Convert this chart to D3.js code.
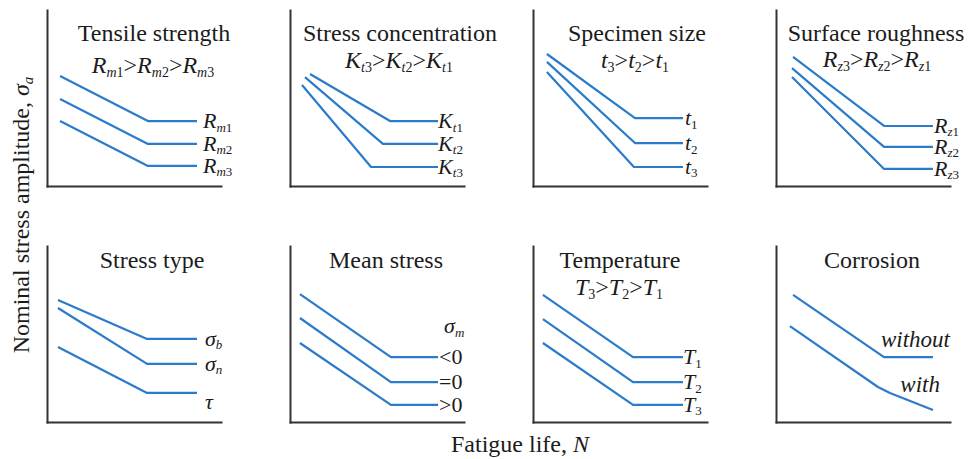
<!DOCTYPE html>
<html>
<head>
<meta charset="utf-8">
<script src="https://cdn.jsdelivr.net/npm/d3@7"></script>
<style>
  html, body { margin: 0; padding: 0; background: #fff; }
  svg { display: block; }
</style>
</head>
<body>
<svg id="chart" width="969" height="459"></svg>
<script>
// ---- Panel text ----
const titles = ["Tensile strength", "Stress concentration", "Specimen size", "Surface roughness",
                "Stress type", "Mean stress", "Temperature", "Corrosion"];
const subtitles = ["R_{m1}>R_{m2}>R_{m3}", "K_{t3}>K_{t2}>K_{t1}", "t_{3}>t_{2}>t_{1}", "R_{z3}>R_{z2}>R_{z1}",
                   "", "", "T_{3}>T_{2}>T_{1}", ""];
const seriesLabels = [
  ["R_{m1}", "R_{m2}", "R_{m3}"],
  ["K_{t1}", "K_{t2}", "K_{t3}"],
  ["t_{1}", "t_{2}", "t_{3}"],
  ["R_{z1}", "R_{z2}", "R_{z3}"],
  ["σ_{b}", "σ_{n}", "τ"],
  ["<0", "=0", ">0"],
  ["T_{1}", "T_{2}", "T_{3}"],
  ["without", "with"]
];

// ---- Schematic S-N curves: [log life (0-100), stress amplitude (0-100)] ----
const tensileStrength = [
  [[7.5, 62.5], [58.0, 36.9], [86.2, 36.9]],
  [[7.5, 49.4], [58.0, 23.9], [86.2, 23.9]],
  [[7.5, 36.9], [58.0, 11.4], [86.2, 11.4]]
];
const stressConcentration = [
  [[11.5, 63.6], [57.5, 36.9], [85.1, 36.9]],
  [[8.6, 61.9], [53.4, 23.9], [85.1, 23.9]],
  [[6.9, 57.4], [46.6, 10.8], [85.1, 10.8]]
];
const specimenSize = [
  [[8.0, 75.0], [58.6, 38.6], [86.2, 38.6]],
  [[8.0, 70.5], [58.6, 24.4], [86.2, 24.4]],
  [[8.0, 64.8], [58.0, 10.8], [86.2, 10.8]]
];
const surfaceRoughness = [
  [[9.8, 73.3], [62.1, 34.1], [90.2, 34.1]],
  [[9.2, 67.0], [62.1, 22.2], [90.2, 22.2]],
  [[9.2, 61.9], [62.1, 9.7], [90.2, 9.7]]
];
const stressType = [
  [[6.3, 69.3], [57.5, 47.2], [86.2, 47.2]],
  [[6.3, 64.8], [57.5, 33.0], [86.2, 33.0]],
  [[6.3, 42.6], [57.5, 16.5], [86.2, 16.5]]
];
const meanStress = [
  [[5.7, 72.7], [58.0, 36.9], [85.1, 36.9]],
  [[5.7, 59.1], [58.0, 22.7], [85.1, 22.7]],
  [[5.7, 44.9], [58.0, 9.7], [85.1, 9.7]]
];
const temperature = [
  [[5.7, 72.2], [57.5, 36.9], [86.2, 36.9]],
  [[5.7, 58.5], [57.5, 22.7], [86.2, 22.7]],
  [[5.7, 44.9], [57.5, 9.7], [86.2, 9.7]]
];
const corrosion = [
  [[9.8, 72.2], [62.1, 36.9], [90.2, 36.9]],
  [[8.0, 54.5], [58.6, 19.9], [65.5, 16.5], [90.2, 6.8]]
];
const panelSeries = [tensileStrength, stressConcentration, specimenSize, surfaceRoughness,
                     stressType, meanStress, temperature, corrosion];

// ---- Layout ----
const FONT = "'Liberation Serif', 'Times New Roman', serif";
const colX0 = [47, 290, 533, 776];
const rowBottom = [186, 422];
const plotW = 174, plotH = 176;
const titleCx = [154, 400, 637, 876, 152, 386, 620, 872];
const titleBase = [41, 41, 41, 41, 268, 268, 268, 268];
const subCx = [153, 399, 635, 877, 0, 0, 619, 0];
const subBase = [73, 68, 68, 67, 0, 0, 295, 0];
const labelDx = [6, 0, 2, 1, 8, 1, 0, 0];
const TITLE_SIZE = 24, MATH_SIZE = 24, LABEL_SIZE = 22, SUB_SIZE = 14, LABEL_SUB = 13, SUB_SHIFT = 3.5;
const lineColor = "#2a7bca", axisColor = "#333", textColor = "#1b1b1b";

const svg = d3.select("#chart");

// Writes a small math string into a <text>: letters italic, "_{..}" as subscript.
function writeMath(text, str, size, subSize, italicLetters = true) {
  const tokens = [];
  let i = 0;
  while (i < str.length) {
    if (str[i] === "_" && str[i + 1] === "{") {
      const end = str.indexOf("}", i);
      for (const ch of str.slice(i + 2, end)) tokens.push({ ch, sub: true });
      i = end + 1;
    } else {
      tokens.push({ ch: str[i], sub: false });
      i++;
    }
  }
  let prevSub = false;
  tokens.forEach(t => {
    const isLetter = /[A-Za-zα-ωΑ-Ω]/.test(t.ch);
    const ts = text.append("tspan")
      .text(t.ch)
      .attr("font-size", t.sub ? subSize : size)
      .attr("font-style", italicLetters && isLetter ? "italic" : "normal");
    if (t.sub !== prevSub) ts.attr("dy", t.sub ? SUB_SHIFT : -SUB_SHIFT);
    prevSub = t.sub;
  });
}

panelSeries.forEach((series, p) => {
  const col = p % 4, row = Math.floor(p / 4);
  const x0 = colX0[col], yb = rowBottom[row];
  const x = d3.scaleLinear().domain([0, 100]).range([x0, x0 + plotW]);
  const y = d3.scaleLinear().domain([0, 100]).range([yb, yb - plotH]);
  const g = svg.append("g");

  // Axes: bare spines, no ticks
  const axX = g.append("g").attr("transform", `translate(0,${yb})`)
    .call(d3.axisBottom(x).tickValues([]).tickSizeOuter(0));
  const axY = g.append("g").attr("transform", `translate(${x0},0)`)
    .call(d3.axisLeft(y).tickValues([]).tickSizeOuter(0));
  [axX, axY].forEach(a => a.select(".domain")
    .attr("stroke", axisColor).attr("stroke-width", 2).attr("stroke-linecap", "square"));

  // Curves
  const line = d3.line().x(d => x(d[0])).y(d => y(d[1]));
  g.selectAll("path.curve").data(series).join("path")
    .attr("class", "curve")
    .attr("d", line)
    .attr("fill", "none")
    .attr("stroke", lineColor)
    .attr("stroke-width", 2.2)
    .attr("stroke-linejoin", "round");

  // Title and ordering line
  g.append("text")
    .attr("x", titleCx[p]).attr("y", titleBase[p])
    .attr("text-anchor", "middle")
    .attr("font-family", FONT).attr("font-size", TITLE_SIZE).attr("fill", textColor)
    .text(titles[p]);
  if (subtitles[p]) {
    const st = g.append("text")
      .attr("x", subCx[p]).attr("y", subBase[p])
      .attr("text-anchor", "middle")
      .attr("font-family", FONT).attr("fill", textColor);
    writeMath(st, subtitles[p], MATH_SIZE, SUB_SIZE);
  }

  // Series labels at the end of each curve
  series.forEach((pts, k) => {
    const last = pts[pts.length - 1];
    const lx = x(last[0]), ly = y(last[1]);
    const t = g.append("text").attr("font-family", FONT).attr("fill", textColor);
    const lab = seriesLabels[p][k];
    if (p === 7) {
      // corrosion labels sit above their curves, right-aligned
      t.attr("text-anchor", "end")
        .attr("x", lx + (k === 0 ? 17 : 7))
        .attr("y", ly + (k === 0 ? -10 : -18))
        .attr("font-size", LABEL_SIZE + 1).attr("font-style", "italic")
        .text(lab);
    } else {
      const extra = (p === 4 && k === 2) ? 9 : 0;
      t.attr("x", lx + labelDx[p]).attr("y", ly + 7 + extra);
      writeMath(t, lab, LABEL_SIZE, LABEL_SUB);
    }
  });

  // Mean-stress header above its labels
  if (p === 5) {
    const first = series[0][series[0].length - 1];
    const t = g.append("text")
      .attr("x", x(first[0]) + 6).attr("y", y(first[1]) - 24)
      .attr("font-family", FONT).attr("fill", textColor);
    writeMath(t, "σ_{m}", LABEL_SIZE, LABEL_SUB);
  }
});

// Shared axis titles
const yt = svg.append("text")
  .attr("transform", "translate(29,215) rotate(-90)")
  .attr("text-anchor", "middle")
  .attr("font-family", FONT).attr("font-size", 24).attr("fill", textColor);
yt.append("tspan").text("Nominal stress amplitude, ");
writeMath(yt, "σ_{a}", 24, 15);

const xt = svg.append("text")
  .attr("x", 520).attr("y", 452)
  .attr("text-anchor", "middle")
  .attr("font-family", FONT).attr("font-size", 24).attr("fill", textColor);
xt.append("tspan").text("Fatigue life, ");
xt.append("tspan").attr("font-style", "italic").text("N");
</script>
</body>
</html>
